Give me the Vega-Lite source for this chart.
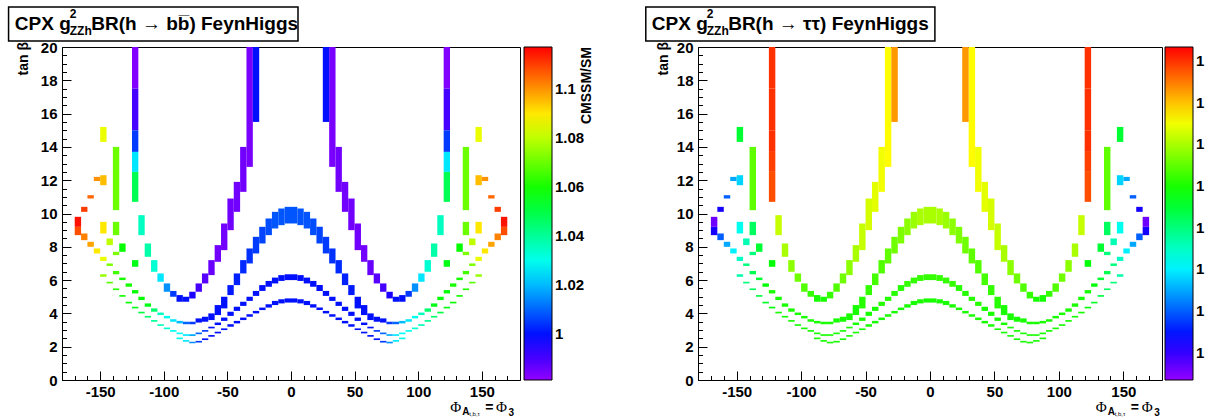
{
  "$schema": "https://vega.github.io/schema/vega-lite/v6.json",
  "background": "white",
  "padding": {"left": 7, "top": 5, "right": 2, "bottom": 0},
  "spacing": 49,
  "resolve": {"scale": {"color": "independent", "x": "independent", "y": "independent"}, "legend": {"color": "independent"}},
  "config": {
    "font": "Liberation Sans",
    "view": {"stroke": "black", "strokeWidth": 1},
    "axis": {"grid": false, "domainColor": "black", "tickColor": "black", "labelColor": "black", "labelFont": "Liberation Sans", "labelFontWeight": "bold", "labelFontSize": 15, "labelOverlap": false, "labelFlush": false, "labelBound": false, "title": null},
    "legend": {"labelFont": "Liberation Sans", "labelFontWeight": "bold", "labelFontSize": 15, "labelColor": "black", "labelOverlap": false}
  },
  "datasets": {
    "cells": [
      {"x":-125,"x2":-120,"y":17.5,"y2":20,"b":0.983,"t":1.08},
      {"x":-125,"x2":-120,"y":15,"y2":17.5,"b":0.99,"t":1.08},
      {"x":-125,"x2":-120,"y":13.7,"y2":15,"b":1.005,"t":1.08},
      {"x":-125,"x2":-120,"y":12.5,"y2":13.7,"b":1.025,"t":1.079},
      {"x":-125,"x2":-120,"y":10.7,"y2":12.5,"b":1.048,"t":1.078},
      {"x":-120,"x2":-115,"y":8.7,"y2":9.9,"b":1.035,"t":1.062},
      {"x":-115,"x2":-110,"y":7.4,"y2":8.2,"b":1.038,"t":1.06},
      {"x":-110,"x2":-105,"y":6.5,"y2":7.2,"b":1.033,"t":1.058},
      {"x":-105,"x2":-100,"y":5.9,"y2":6.4,"b":1.025,"t":1.056},
      {"x":-100,"x2":-95,"y":5.3,"y2":5.8,"b":1.015,"t":1.054},
      {"x":-95,"x2":-90,"y":5.0,"y2":5.35,"b":1.005,"t":1.052},
      {"x":-90,"x2":-85,"y":4.7,"y2":5.1,"b":1.0,"t":1.05},
      {"x":-85,"x2":-80,"y":4.7,"y2":5.0,"b":1.0,"t":1.05},
      {"x":-80,"x2":-75,"y":4.9,"y2":5.3,"b":0.995,"t":1.052},
      {"x":-75,"x2":-70,"y":5.3,"y2":5.8,"b":0.99,"t":1.054},
      {"x":-70,"x2":-65,"y":5.8,"y2":6.4,"b":0.988,"t":1.056},
      {"x":-65,"x2":-60,"y":6.3,"y2":7.2,"b":0.986,"t":1.058},
      {"x":-60,"x2":-55,"y":7.1,"y2":8.1,"b":0.985,"t":1.06},
      {"x":-55,"x2":-50,"y":7.8,"y2":9.4,"b":0.985,"t":1.062},
      {"x":-50,"x2":-45,"y":9.0,"y2":10.9,"b":0.985,"t":1.063},
      {"x":-45,"x2":-40,"y":10.1,"y2":11.9,"b":0.985,"t":1.064},
      {"x":-40,"x2":-35,"y":11.3,"y2":14,"b":0.985,"t":1.065},
      {"x":-35,"x2":-30,"y":12.8,"y2":20,"b":0.984,"t":1.066},
      {"x":-30,"x2":-25,"y":15.5,"y2":20,"b":1.0,"t":1.073},
      {"x":-5,"x2":0,"y":9.4,"y2":10.4,"b":1.008,"t":1.06},
      {"x":-10,"x2":-5,"y":9.3,"y2":10.3,"b":1.008,"t":1.06},
      {"x":-15,"x2":-10,"y":9.1,"y2":10.1,"b":1.008,"t":1.059},
      {"x":-20,"x2":-15,"y":8.7,"y2":9.7,"b":1.007,"t":1.058},
      {"x":-25,"x2":-20,"y":8.2,"y2":9.2,"b":1.006,"t":1.057},
      {"x":-30,"x2":-25,"y":7.6,"y2":8.6,"b":1.005,"t":1.056},
      {"x":-35,"x2":-30,"y":7.0,"y2":7.9,"b":1.004,"t":1.055},
      {"x":-40,"x2":-35,"y":6.4,"y2":7.2,"b":1.003,"t":1.054},
      {"x":-45,"x2":-40,"y":5.7,"y2":6.4,"b":1.002,"t":1.053},
      {"x":-50,"x2":-45,"y":5.1,"y2":5.7,"b":1.001,"t":1.052},
      {"x":-55,"x2":-50,"y":4.3,"y2":5.0,"b":1.0,"t":1.051},
      {"x":-60,"x2":-55,"y":3.9,"y2":4.5,"b":1.0,"t":1.05},
      {"x":-65,"x2":-60,"y":3.6,"y2":4.0,"b":1.0,"t":1.05},
      {"x":-70,"x2":-65,"y":3.5,"y2":3.8,"b":1.0,"t":1.05},
      {"x":-75,"x2":-70,"y":3.45,"y2":3.7,"b":1.0,"t":1.05},
      {"x":-80,"x2":-75,"y":3.35,"y2":3.5,"b":1.005,"t":1.05},
      {"x":-85,"x2":-80,"y":3.35,"y2":3.5,"b":1.01,"t":1.05},
      {"x":-90,"x2":-85,"y":3.4,"y2":3.55,"b":1.02,"t":1.05},
      {"x":-95,"x2":-90,"y":3.5,"y2":3.65,"b":1.025,"t":1.05},
      {"x":-100,"x2":-95,"y":3.7,"y2":3.85,"b":1.03,"t":1.05},
      {"x":-105,"x2":-100,"y":3.9,"y2":4.05,"b":1.035,"t":1.05},
      {"x":-110,"x2":-105,"y":4.1,"y2":4.3,"b":1.045,"t":1.05},
      {"x":-115,"x2":-110,"y":4.4,"y2":4.6,"b":1.055,"t":1.05},
      {"x":-120,"x2":-115,"y":4.8,"y2":5.0,"b":1.058,"t":1.05},
      {"x":-125,"x2":-120,"y":5.2,"y2":5.4,"b":1.058,"t":1.05},
      {"x":-130,"x2":-125,"y":5.6,"y2":5.8,"b":1.06,"t":1.048},
      {"x":-135,"x2":-130,"y":6.0,"y2":6.15,"b":1.06,"t":1.045},
      {"x":-140,"x2":-135,"y":6.35,"y2":6.55,"b":1.065,"t":1.043},
      {"x":-145,"x2":-140,"y":6.85,"y2":7.0,"b":1.072,"t":1.04},
      {"x":-150,"x2":-145,"y":7.15,"y2":7.4,"b":1.085,"t":1.035},
      {"x":-155,"x2":-150,"y":7.6,"y2":7.9,"b":1.09,"t":1.03},
      {"x":-160,"x2":-155,"y":8.0,"y2":8.3,"b":1.098,"t":1.025},
      {"x":-165,"x2":-160,"y":8.4,"y2":8.8,"b":1.102,"t":1.02},
      {"x":-170,"x2":-165,"y":8.7,"y2":9.2,"b":1.108,"t":1.012},
      {"x":-170,"x2":-165,"y":9.2,"y2":9.8,"b":1.115,"t":1.006},
      {"x":-5,"x2":0,"y":6.0,"y2":6.35,"b":1.0,"t":1.052},
      {"x":-10,"x2":-5,"y":5.95,"y2":6.3,"b":1.0,"t":1.052},
      {"x":-15,"x2":-10,"y":5.8,"y2":6.15,"b":1.0,"t":1.052},
      {"x":-20,"x2":-15,"y":5.6,"y2":5.95,"b":1.0,"t":1.052},
      {"x":-25,"x2":-20,"y":5.35,"y2":5.7,"b":1.0,"t":1.051},
      {"x":-30,"x2":-25,"y":5.05,"y2":5.35,"b":1.0,"t":1.051},
      {"x":-35,"x2":-30,"y":4.75,"y2":5.0,"b":1.0,"t":1.051},
      {"x":-40,"x2":-35,"y":4.45,"y2":4.7,"b":1.0,"t":1.051},
      {"x":-45,"x2":-40,"y":4.15,"y2":4.4,"b":1.0,"t":1.05},
      {"x":-50,"x2":-45,"y":3.85,"y2":4.1,"b":1.0,"t":1.05},
      {"x":-55,"x2":-50,"y":3.55,"y2":3.75,"b":1.0,"t":1.05},
      {"x":-60,"x2":-55,"y":3.3,"y2":3.45,"b":1.0,"t":1.05},
      {"x":-65,"x2":-60,"y":3.1,"y2":3.2,"b":1.0,"t":1.05},
      {"x":-70,"x2":-65,"y":2.9,"y2":3.0,"b":1.005,"t":1.05},
      {"x":-75,"x2":-70,"y":2.75,"y2":2.85,"b":1.01,"t":1.05},
      {"x":-80,"x2":-75,"y":2.65,"y2":2.75,"b":1.018,"t":1.05},
      {"x":-85,"x2":-80,"y":2.65,"y2":2.75,"b":1.025,"t":1.05},
      {"x":-90,"x2":-85,"y":2.75,"y2":2.85,"b":1.028,"t":1.05},
      {"x":-95,"x2":-90,"y":2.9,"y2":3.0,"b":1.03,"t":1.05},
      {"x":-100,"x2":-95,"y":3.05,"y2":3.15,"b":1.033,"t":1.05},
      {"x":-105,"x2":-100,"y":3.25,"y2":3.35,"b":1.036,"t":1.05},
      {"x":-110,"x2":-105,"y":3.5,"y2":3.6,"b":1.04,"t":1.05},
      {"x":-115,"x2":-110,"y":3.75,"y2":3.85,"b":1.045,"t":1.05},
      {"x":-120,"x2":-115,"y":4.0,"y2":4.1,"b":1.05,"t":1.05},
      {"x":-125,"x2":-120,"y":4.3,"y2":4.4,"b":1.055,"t":1.048},
      {"x":-130,"x2":-125,"y":4.6,"y2":4.7,"b":1.058,"t":1.046},
      {"x":-135,"x2":-130,"y":5.0,"y2":5.1,"b":1.06,"t":1.044},
      {"x":-140,"x2":-135,"y":5.4,"y2":5.5,"b":1.062,"t":1.042},
      {"x":-145,"x2":-140,"y":5.8,"y2":5.9,"b":1.068,"t":1.04},
      {"x":-150,"x2":-145,"y":6.2,"y2":6.35,"b":1.075,"t":1.037},
      {"x":-5,"x2":0,"y":4.65,"y2":4.9,"b":1.0,"t":1.05},
      {"x":-10,"x2":-5,"y":4.6,"y2":4.85,"b":1.0,"t":1.05},
      {"x":-15,"x2":-10,"y":4.5,"y2":4.75,"b":1.0,"t":1.05},
      {"x":-20,"x2":-15,"y":4.35,"y2":4.55,"b":1.0,"t":1.05},
      {"x":-25,"x2":-20,"y":4.2,"y2":4.35,"b":1.0,"t":1.05},
      {"x":-30,"x2":-25,"y":4.0,"y2":4.15,"b":1.0,"t":1.05},
      {"x":-35,"x2":-30,"y":3.8,"y2":3.95,"b":1.0,"t":1.05},
      {"x":-40,"x2":-35,"y":3.6,"y2":3.75,"b":1.0,"t":1.05},
      {"x":-45,"x2":-40,"y":3.4,"y2":3.55,"b":1.0,"t":1.05},
      {"x":-50,"x2":-45,"y":3.2,"y2":3.35,"b":1.0,"t":1.05},
      {"x":-55,"x2":-50,"y":3.0,"y2":3.1,"b":1.0,"t":1.05},
      {"x":-60,"x2":-55,"y":2.8,"y2":2.9,"b":1.0,"t":1.05},
      {"x":-65,"x2":-60,"y":2.6,"y2":2.7,"b":1.0,"t":1.05},
      {"x":-70,"x2":-65,"y":2.4,"y2":2.5,"b":1.0,"t":1.05},
      {"x":-75,"x2":-70,"y":2.25,"y2":2.35,"b":1.005,"t":1.05},
      {"x":-80,"x2":-75,"y":2.2,"y2":2.3,"b":1.015,"t":1.05},
      {"x":-85,"x2":-80,"y":2.3,"y2":2.4,"b":1.025,"t":1.05},
      {"x":-90,"x2":-85,"y":2.45,"y2":2.55,"b":1.03,"t":1.05},
      {"x":-140,"x2":-135,"y":10.2,"y2":14,"b":1.07,"t":1.055},
      {"x":-150,"x2":-145,"y":14.3,"y2":15.2,"b":1.085,"t":1.045},
      {"x":-165,"x2":-160,"y":10.1,"y2":10.4,"b":1.11,"t":1.012},
      {"x":-160,"x2":-155,"y":10.9,"y2":11.1,"b":1.105,"t":1.02},
      {"x":-155,"x2":-150,"y":11.95,"y2":12.2,"b":1.1,"t":1.025},
      {"x":-150,"x2":-145,"y":11.7,"y2":12.3,"b":1.095,"t":1.028},
      {"x":-150,"x2":-145,"y":8.8,"y2":9.5,"b":1.09,"t":1.032},
      {"x":-145,"x2":-140,"y":8.1,"y2":8.5,"b":1.08,"t":1.036},
      {"x":-140,"x2":-135,"y":8.7,"y2":9.5,"b":1.07,"t":1.042},
      {"x":-140,"x2":-135,"y":7.5,"y2":7.7,"b":1.072,"t":1.04},
      {"x":-135,"x2":-130,"y":7.7,"y2":8.2,"b":1.058,"t":1.045},
      {"x":-125,"x2":-120,"y":6.8,"y2":7.2,"b":1.055,"t":1.048},

      {"x":120,"x2":125,"y":17.5,"y2":20,"b":0.983,"t":1.08},
      {"x":120,"x2":125,"y":15,"y2":17.5,"b":0.99,"t":1.08},
      {"x":120,"x2":125,"y":13.7,"y2":15,"b":1.005,"t":1.08},
      {"x":120,"x2":125,"y":12.5,"y2":13.7,"b":1.025,"t":1.079},
      {"x":120,"x2":125,"y":10.7,"y2":12.5,"b":1.048,"t":1.078},
      {"x":115,"x2":120,"y":8.7,"y2":9.9,"b":1.035,"t":1.062},
      {"x":110,"x2":115,"y":7.4,"y2":8.2,"b":1.038,"t":1.06},
      {"x":105,"x2":110,"y":6.5,"y2":7.2,"b":1.033,"t":1.058},
      {"x":100,"x2":105,"y":5.9,"y2":6.4,"b":1.025,"t":1.056},
      {"x":95,"x2":100,"y":5.3,"y2":5.8,"b":1.015,"t":1.054},
      {"x":90,"x2":95,"y":5.0,"y2":5.35,"b":1.005,"t":1.052},
      {"x":85,"x2":90,"y":4.7,"y2":5.1,"b":1.0,"t":1.05},
      {"x":80,"x2":85,"y":4.7,"y2":5.0,"b":1.0,"t":1.05},
      {"x":75,"x2":80,"y":4.9,"y2":5.3,"b":0.995,"t":1.052},
      {"x":70,"x2":75,"y":5.3,"y2":5.8,"b":0.99,"t":1.054},
      {"x":65,"x2":70,"y":5.8,"y2":6.4,"b":0.988,"t":1.056},
      {"x":60,"x2":65,"y":6.3,"y2":7.2,"b":0.986,"t":1.058},
      {"x":55,"x2":60,"y":7.1,"y2":8.1,"b":0.985,"t":1.06},
      {"x":50,"x2":55,"y":7.8,"y2":9.4,"b":0.985,"t":1.062},
      {"x":45,"x2":50,"y":9.0,"y2":10.9,"b":0.985,"t":1.063},
      {"x":40,"x2":45,"y":10.1,"y2":11.9,"b":0.985,"t":1.064},
      {"x":35,"x2":40,"y":11.3,"y2":14,"b":0.985,"t":1.065},
      {"x":30,"x2":35,"y":12.8,"y2":20,"b":0.984,"t":1.066},
      {"x":25,"x2":30,"y":15.5,"y2":20,"b":1.0,"t":1.073},
      {"x":0,"x2":5,"y":9.4,"y2":10.4,"b":1.008,"t":1.06},
      {"x":5,"x2":10,"y":9.3,"y2":10.3,"b":1.008,"t":1.06},
      {"x":10,"x2":15,"y":9.1,"y2":10.1,"b":1.008,"t":1.059},
      {"x":15,"x2":20,"y":8.7,"y2":9.7,"b":1.007,"t":1.058},
      {"x":20,"x2":25,"y":8.2,"y2":9.2,"b":1.006,"t":1.057},
      {"x":25,"x2":30,"y":7.6,"y2":8.6,"b":1.005,"t":1.056},
      {"x":30,"x2":35,"y":7.0,"y2":7.9,"b":1.004,"t":1.055},
      {"x":35,"x2":40,"y":6.4,"y2":7.2,"b":1.003,"t":1.054},
      {"x":40,"x2":45,"y":5.7,"y2":6.4,"b":1.002,"t":1.053},
      {"x":45,"x2":50,"y":5.1,"y2":5.7,"b":1.001,"t":1.052},
      {"x":50,"x2":55,"y":4.3,"y2":5.0,"b":1.0,"t":1.051},
      {"x":55,"x2":60,"y":3.9,"y2":4.5,"b":1.0,"t":1.05},
      {"x":60,"x2":65,"y":3.6,"y2":4.0,"b":1.0,"t":1.05},
      {"x":65,"x2":70,"y":3.5,"y2":3.8,"b":1.0,"t":1.05},
      {"x":70,"x2":75,"y":3.45,"y2":3.7,"b":1.0,"t":1.05},
      {"x":75,"x2":80,"y":3.35,"y2":3.5,"b":1.005,"t":1.05},
      {"x":80,"x2":85,"y":3.35,"y2":3.5,"b":1.01,"t":1.05},
      {"x":85,"x2":90,"y":3.4,"y2":3.55,"b":1.02,"t":1.05},
      {"x":90,"x2":95,"y":3.5,"y2":3.65,"b":1.025,"t":1.05},
      {"x":95,"x2":100,"y":3.7,"y2":3.85,"b":1.03,"t":1.05},
      {"x":100,"x2":105,"y":3.9,"y2":4.05,"b":1.035,"t":1.05},
      {"x":105,"x2":110,"y":4.1,"y2":4.3,"b":1.045,"t":1.05},
      {"x":110,"x2":115,"y":4.4,"y2":4.6,"b":1.055,"t":1.05},
      {"x":115,"x2":120,"y":4.8,"y2":5.0,"b":1.058,"t":1.05},
      {"x":120,"x2":125,"y":5.2,"y2":5.4,"b":1.058,"t":1.05},
      {"x":125,"x2":130,"y":5.6,"y2":5.8,"b":1.06,"t":1.048},
      {"x":130,"x2":135,"y":6.0,"y2":6.15,"b":1.06,"t":1.045},
      {"x":135,"x2":140,"y":6.35,"y2":6.55,"b":1.065,"t":1.043},
      {"x":140,"x2":145,"y":6.85,"y2":7.0,"b":1.072,"t":1.04},
      {"x":145,"x2":150,"y":7.15,"y2":7.4,"b":1.085,"t":1.035},
      {"x":150,"x2":155,"y":7.6,"y2":7.9,"b":1.09,"t":1.03},
      {"x":155,"x2":160,"y":8.0,"y2":8.3,"b":1.098,"t":1.025},
      {"x":160,"x2":165,"y":8.4,"y2":8.8,"b":1.102,"t":1.02},
      {"x":165,"x2":170,"y":8.7,"y2":9.2,"b":1.108,"t":1.012},
      {"x":165,"x2":170,"y":9.2,"y2":9.8,"b":1.115,"t":1.006},
      {"x":0,"x2":5,"y":6.0,"y2":6.35,"b":1.0,"t":1.052},
      {"x":5,"x2":10,"y":5.95,"y2":6.3,"b":1.0,"t":1.052},
      {"x":10,"x2":15,"y":5.8,"y2":6.15,"b":1.0,"t":1.052},
      {"x":15,"x2":20,"y":5.6,"y2":5.95,"b":1.0,"t":1.052},
      {"x":20,"x2":25,"y":5.35,"y2":5.7,"b":1.0,"t":1.051},
      {"x":25,"x2":30,"y":5.05,"y2":5.35,"b":1.0,"t":1.051},
      {"x":30,"x2":35,"y":4.75,"y2":5.0,"b":1.0,"t":1.051},
      {"x":35,"x2":40,"y":4.45,"y2":4.7,"b":1.0,"t":1.051},
      {"x":40,"x2":45,"y":4.15,"y2":4.4,"b":1.0,"t":1.05},
      {"x":45,"x2":50,"y":3.85,"y2":4.1,"b":1.0,"t":1.05},
      {"x":50,"x2":55,"y":3.55,"y2":3.75,"b":1.0,"t":1.05},
      {"x":55,"x2":60,"y":3.3,"y2":3.45,"b":1.0,"t":1.05},
      {"x":60,"x2":65,"y":3.1,"y2":3.2,"b":1.0,"t":1.05},
      {"x":65,"x2":70,"y":2.9,"y2":3.0,"b":1.005,"t":1.05},
      {"x":70,"x2":75,"y":2.75,"y2":2.85,"b":1.01,"t":1.05},
      {"x":75,"x2":80,"y":2.65,"y2":2.75,"b":1.018,"t":1.05},
      {"x":80,"x2":85,"y":2.65,"y2":2.75,"b":1.025,"t":1.05},
      {"x":85,"x2":90,"y":2.75,"y2":2.85,"b":1.028,"t":1.05},
      {"x":90,"x2":95,"y":2.9,"y2":3.0,"b":1.03,"t":1.05},
      {"x":95,"x2":100,"y":3.05,"y2":3.15,"b":1.033,"t":1.05},
      {"x":100,"x2":105,"y":3.25,"y2":3.35,"b":1.036,"t":1.05},
      {"x":105,"x2":110,"y":3.5,"y2":3.6,"b":1.04,"t":1.05},
      {"x":110,"x2":115,"y":3.75,"y2":3.85,"b":1.045,"t":1.05},
      {"x":115,"x2":120,"y":4.0,"y2":4.1,"b":1.05,"t":1.05},
      {"x":120,"x2":125,"y":4.3,"y2":4.4,"b":1.055,"t":1.048},
      {"x":125,"x2":130,"y":4.6,"y2":4.7,"b":1.058,"t":1.046},
      {"x":130,"x2":135,"y":5.0,"y2":5.1,"b":1.06,"t":1.044},
      {"x":135,"x2":140,"y":5.4,"y2":5.5,"b":1.062,"t":1.042},
      {"x":140,"x2":145,"y":5.8,"y2":5.9,"b":1.068,"t":1.04},
      {"x":145,"x2":150,"y":6.2,"y2":6.35,"b":1.075,"t":1.037},
      {"x":0,"x2":5,"y":4.65,"y2":4.9,"b":1.0,"t":1.05},
      {"x":5,"x2":10,"y":4.6,"y2":4.85,"b":1.0,"t":1.05},
      {"x":10,"x2":15,"y":4.5,"y2":4.75,"b":1.0,"t":1.05},
      {"x":15,"x2":20,"y":4.35,"y2":4.55,"b":1.0,"t":1.05},
      {"x":20,"x2":25,"y":4.2,"y2":4.35,"b":1.0,"t":1.05},
      {"x":25,"x2":30,"y":4.0,"y2":4.15,"b":1.0,"t":1.05},
      {"x":30,"x2":35,"y":3.8,"y2":3.95,"b":1.0,"t":1.05},
      {"x":35,"x2":40,"y":3.6,"y2":3.75,"b":1.0,"t":1.05},
      {"x":40,"x2":45,"y":3.4,"y2":3.55,"b":1.0,"t":1.05},
      {"x":45,"x2":50,"y":3.2,"y2":3.35,"b":1.0,"t":1.05},
      {"x":50,"x2":55,"y":3.0,"y2":3.1,"b":1.0,"t":1.05},
      {"x":55,"x2":60,"y":2.8,"y2":2.9,"b":1.0,"t":1.05},
      {"x":60,"x2":65,"y":2.6,"y2":2.7,"b":1.0,"t":1.05},
      {"x":65,"x2":70,"y":2.4,"y2":2.5,"b":1.0,"t":1.05},
      {"x":70,"x2":75,"y":2.25,"y2":2.35,"b":1.005,"t":1.05},
      {"x":75,"x2":80,"y":2.2,"y2":2.3,"b":1.015,"t":1.05},
      {"x":80,"x2":85,"y":2.3,"y2":2.4,"b":1.025,"t":1.05},
      {"x":85,"x2":90,"y":2.45,"y2":2.55,"b":1.03,"t":1.05},
      {"x":135,"x2":140,"y":10.2,"y2":14,"b":1.07,"t":1.055},
      {"x":145,"x2":150,"y":14.3,"y2":15.2,"b":1.085,"t":1.045},
      {"x":160,"x2":165,"y":10.1,"y2":10.4,"b":1.11,"t":1.012},
      {"x":155,"x2":160,"y":10.9,"y2":11.1,"b":1.105,"t":1.02},
      {"x":150,"x2":155,"y":11.95,"y2":12.2,"b":1.1,"t":1.025},
      {"x":145,"x2":150,"y":11.7,"y2":12.3,"b":1.095,"t":1.028},
      {"x":145,"x2":150,"y":8.8,"y2":9.5,"b":1.09,"t":1.032},
      {"x":140,"x2":145,"y":8.1,"y2":8.5,"b":1.08,"t":1.036},
      {"x":135,"x2":140,"y":8.7,"y2":9.5,"b":1.07,"t":1.042},
      {"x":135,"x2":140,"y":7.5,"y2":7.7,"b":1.072,"t":1.04},
      {"x":130,"x2":135,"y":7.7,"y2":8.2,"b":1.058,"t":1.045},
      {"x":120,"x2":125,"y":6.8,"y2":7.2,"b":1.055,"t":1.048}
    ]
  },
  "hconcat": [
    {
      "width": 458,
      "height": 333,
      "resolve": {"axis": {"x": "independent", "y": "independent"}},
      "layer": [
        {
          "data": {"name": "cells"},
          "mark": {"type": "rect"},
          "encoding": {
            "x": {"field": "x", "type": "quantitative", "scale": {"domain": [-180, 180], "nice": false, "zero": false},
              "axis": {"orient": "bottom", "values": [-150,-100,-50,0,50,100,150], "labelExpr": "'' + datum.value", "tickSize": -9, "labelPadding": 13}},
            "x2": {"field": "x2"},
            "y": {"field": "y", "type": "quantitative", "scale": {"domain": [0, 20], "nice": false, "zero": false},
              "axis": {"orient": "left", "values": [0,2,4,6,8,10,12,14,16,18,20], "labelExpr": "'' + datum.value", "tickSize": -9, "labelPadding": 14}},
            "y2": {"field": "y2"},
            "color": {"field": "b", "type": "quantitative",
              "scale": {"domain": [0.9811, 1.00828, 1.03546, 1.06264, 1.08982, 1.117], "range": ["hsl(274.4,100%,50%)", "hsl(219.5,100%,50%)", "hsl(164.6,100%,50%)", "hsl(109.8,100%,50%)", "hsl(54.9,100%,50%)", "hsl(0,100%,50%)"], "interpolate": "hsl", "clamp": true},
              "legend": {"orient": "right", "offset": 4, "title": null, "gradientLength": 333, "gradientThickness": 28, "values": [1, 1.02, 1.04, 1.06, 1.08, 1.1], "format": ".2~f", "labelOffset": 3, "gradientStrokeColor": "black", "gradientStrokeWidth": 1}}
          }
        },
        {"data": {"values": [{}]}, "mark": {"type": "rect", "fill": "white", "stroke": "black", "strokeWidth": 1.5, "clip": false},
          "encoding": {
            "x": {"datum": -222, "axis": {"orient": "bottom", "values": [-170,-160,-140,-130,-120,-110,-90,-80,-70,-60,-40,-30,-20,-10,10,20,30,40,60,70,80,90,110,120,130,140,160,170], "labels": false, "domain": false, "tickSize": -4.5}},
            "x2": {"datum": 5.5},
            "y": {"datum": 22.4, "axis": {"orient": "left", "values": [0.5,1,1.5,2.5,3,3.5,4.5,5,5.5,6.5,7,7.5,8.5,9,9.5,10.5,11,11.5,12.5,13,13.5,14.5,15,15.5,16.5,17,17.5,18.5,19,19.5], "labels": false, "domain": false, "tickSize": -4.5}},
            "y2": {"datum": 20.36}}},
        {"data": {"values": [{}]}, "mark": {"type": "text", "align": "left", "baseline": "alphabetic", "fontWeight": "bold", "fontSize": 19, "clip": false},
          "encoding": {"x": {"datum": -217.1, "axis": null}, "y": {"datum": 21.02, "axis": null}, "text": {"value": "CPX g"}}},
        {"data": {"values": [{}]}, "mark": {"type": "text", "align": "left", "baseline": "alphabetic", "fontWeight": "bold", "fontSize": 12, "clip": false},
          "encoding": {"x": {"datum": -173.9, "axis": null}, "y": {"datum": 21.77, "axis": null}, "text": {"value": "2"}}},
        {"data": {"values": [{}]}, "mark": {"type": "text", "align": "left", "baseline": "alphabetic", "fontWeight": "bold", "fontSize": 12, "clip": false},
          "encoding": {"x": {"datum": -173.9, "axis": null}, "y": {"datum": 20.72, "axis": null}, "text": {"value": "ZZh"}}},
        {"data": {"values": [{}]}, "mark": {"type": "text", "align": "left", "baseline": "alphabetic", "fontWeight": "bold", "fontSize": 19, "clip": false},
          "encoding": {"x": {"datum": -157.0, "axis": null}, "y": {"datum": 21.02, "axis": null}, "text": {"value": "BR(h → bb̅) FeynHiggs"}}},
        {"data": {"values": [{}]}, "mark": {"type": "text", "align": "right", "baseline": "middle", "angle": 270, "fontWeight": "bold", "fontSize": 14, "clip": false},
          "encoding": {"x": {"datum": -209.5, "axis": null}, "y": {"datum": 20.3, "axis": null}, "text": {"value": "tan β"}}},
        {"data": {"values": [{}]}, "mark": {"type": "text", "align": "right", "baseline": "middle", "angle": 270, "fontWeight": "bold", "fontSize": 14, "clip": false},
          "encoding": {"x": {"datum": 232.6, "axis": null}, "y": {"datum": 20, "axis": null}, "text": {"value": "CMSSM/SM"}}},
        {"data": {"values": [{}]}, "mark": {"type": "text", "align": "left", "baseline": "alphabetic", "fontSize": 15, "font": "Liberation Serif", "clip": false},
          "encoding": {"x": {"datum": 125.2, "axis": null}, "y": {"datum": -1.92, "axis": null}, "text": {"value": "Φ"}}},
        {"data": {"values": [{}]}, "mark": {"type": "text", "align": "left", "baseline": "alphabetic", "fontSize": 10, "fontWeight": "bold", "clip": false},
          "encoding": {"x": {"datum": 134.6, "axis": null}, "y": {"datum": -2.1, "axis": null}, "text": {"value": "A"}}},
        {"data": {"values": [{}]}, "mark": {"type": "text", "align": "left", "baseline": "alphabetic", "fontSize": 6, "clip": false},
          "encoding": {"x": {"datum": 140.1, "axis": null}, "y": {"datum": -2.16, "axis": null}, "text": {"value": "t,b,τ"}}},
        {"data": {"values": [{}]}, "mark": {"type": "text", "align": "left", "baseline": "alphabetic", "fontSize": 14, "fontWeight": "bold", "clip": false},
          "encoding": {"x": {"datum": 152.6, "axis": null}, "y": {"datum": -1.92, "axis": null}, "text": {"value": "="}}},
        {"data": {"values": [{}]}, "mark": {"type": "text", "align": "left", "baseline": "alphabetic", "fontSize": 15, "font": "Liberation Serif", "clip": false},
          "encoding": {"x": {"datum": 161.2, "axis": null}, "y": {"datum": -1.92, "axis": null}, "text": {"value": "Φ"}}},
        {"data": {"values": [{}]}, "mark": {"type": "text", "align": "left", "baseline": "alphabetic", "fontSize": 10, "fontWeight": "bold", "clip": false},
          "encoding": {"x": {"datum": 171.0, "axis": null}, "y": {"datum": -2.16, "axis": null}, "text": {"value": "3"}}}
      ]
    },
    {
      "width": 464,
      "height": 333,
      "resolve": {"axis": {"x": "independent", "y": "independent"}},
      "layer": [
        {
          "data": {"name": "cells"},
          "mark": {"type": "rect"},
          "encoding": {
            "x": {"field": "x", "type": "quantitative", "scale": {"domain": [-180, 180], "nice": false, "zero": false},
              "axis": {"orient": "bottom", "values": [-150,-100,-50,0,50,100,150], "labelExpr": "'' + datum.value", "tickSize": -9, "labelPadding": 13}},
            "x2": {"field": "x2"},
            "y": {"field": "y", "type": "quantitative", "scale": {"domain": [0, 20], "nice": false, "zero": false},
              "axis": {"orient": "left", "values": [0,2,4,6,8,10,12,14,16,18,20], "labelExpr": "'' + datum.value", "tickSize": -9, "labelPadding": 14}},
            "y2": {"field": "y2"},
            "color": {"field": "t", "type": "quantitative",
              "scale": {"domain": [1.00345, 1.01943, 1.03541, 1.0514, 1.06738, 1.08336], "range": ["hsl(274.4,100%,50%)", "hsl(219.5,100%,50%)", "hsl(164.6,100%,50%)", "hsl(109.8,100%,50%)", "hsl(54.9,100%,50%)", "hsl(0,100%,50%)"], "interpolate": "hsl", "clamp": true},
              "legend": {"orient": "right", "offset": 3, "title": null, "gradientLength": 333, "gradientThickness": 28, "values": [1.01, 1.02, 1.03, 1.04, 1.05, 1.06, 1.07, 1.08], "format": ".0f", "labelOffset": 3, "gradientStrokeColor": "black", "gradientStrokeWidth": 1}}
          }
        },
        {"data": {"values": [{}]}, "mark": {"type": "rect", "fill": "white", "stroke": "black", "strokeWidth": 1.5, "clip": false},
          "encoding": {
            "x": {"datum": -220.5, "axis": {"orient": "bottom", "values": [-170,-160,-140,-130,-120,-110,-90,-80,-70,-60,-40,-30,-20,-10,10,20,30,40,60,70,80,90,110,120,130,140,160,170], "labels": false, "domain": false, "tickSize": -4.5}},
            "x2": {"datum": 3.8},
            "y": {"datum": 22.4, "axis": {"orient": "left", "values": [0.5,1,1.5,2.5,3,3.5,4.5,5,5.5,6.5,7,7.5,8.5,9,9.5,10.5,11,11.5,12.5,13,13.5,14.5,15,15.5,16.5,17,17.5,18.5,19,19.5], "labels": false, "domain": false, "tickSize": -4.5}},
            "y2": {"datum": 20.36}}},
        {"data": {"values": [{}]}, "mark": {"type": "text", "align": "left", "baseline": "alphabetic", "fontWeight": "bold", "fontSize": 19, "clip": false},
          "encoding": {"x": {"datum": -215.8, "axis": null}, "y": {"datum": 21.02, "axis": null}, "text": {"value": "CPX g"}}},
        {"data": {"values": [{}]}, "mark": {"type": "text", "align": "left", "baseline": "alphabetic", "fontWeight": "bold", "fontSize": 12, "clip": false},
          "encoding": {"x": {"datum": -173.2, "axis": null}, "y": {"datum": 21.77, "axis": null}, "text": {"value": "2"}}},
        {"data": {"values": [{}]}, "mark": {"type": "text", "align": "left", "baseline": "alphabetic", "fontWeight": "bold", "fontSize": 12, "clip": false},
          "encoding": {"x": {"datum": -173.2, "axis": null}, "y": {"datum": 20.72, "axis": null}, "text": {"value": "ZZh"}}},
        {"data": {"values": [{}]}, "mark": {"type": "text", "align": "left", "baseline": "alphabetic", "fontWeight": "bold", "fontSize": 19, "clip": false},
          "encoding": {"x": {"datum": -156.6, "axis": null}, "y": {"datum": 21.02, "axis": null}, "text": {"value": "BR(h → ττ) FeynHiggs"}}},
        {"data": {"values": [{}]}, "mark": {"type": "text", "align": "right", "baseline": "middle", "angle": 270, "fontWeight": "bold", "fontSize": 14, "clip": false},
          "encoding": {"x": {"datum": -206.4, "axis": null}, "y": {"datum": 20.3, "axis": null}, "text": {"value": "tan β"}}},
        {"data": {"values": [{}]}, "mark": {"type": "text", "align": "left", "baseline": "alphabetic", "fontSize": 15, "font": "Liberation Serif", "clip": false},
          "encoding": {"x": {"datum": 128.6, "axis": null}, "y": {"datum": -1.92, "axis": null}, "text": {"value": "Φ"}}},
        {"data": {"values": [{}]}, "mark": {"type": "text", "align": "left", "baseline": "alphabetic", "fontSize": 10, "fontWeight": "bold", "clip": false},
          "encoding": {"x": {"datum": 137.9, "axis": null}, "y": {"datum": -2.1, "axis": null}, "text": {"value": "A"}}},
        {"data": {"values": [{}]}, "mark": {"type": "text", "align": "left", "baseline": "alphabetic", "fontSize": 6, "clip": false},
          "encoding": {"x": {"datum": 143.3, "axis": null}, "y": {"datum": -2.16, "axis": null}, "text": {"value": "t,b,τ"}}},
        {"data": {"values": [{}]}, "mark": {"type": "text", "align": "left", "baseline": "alphabetic", "fontSize": 14, "fontWeight": "bold", "clip": false},
          "encoding": {"x": {"datum": 155.7, "axis": null}, "y": {"datum": -1.92, "axis": null}, "text": {"value": "="}}},
        {"data": {"values": [{}]}, "mark": {"type": "text", "align": "left", "baseline": "alphabetic", "fontSize": 15, "font": "Liberation Serif", "clip": false},
          "encoding": {"x": {"datum": 164.2, "axis": null}, "y": {"datum": -1.92, "axis": null}, "text": {"value": "Φ"}}},
        {"data": {"values": [{}]}, "mark": {"type": "text", "align": "left", "baseline": "alphabetic", "fontSize": 10, "fontWeight": "bold", "clip": false},
          "encoding": {"x": {"datum": 173.9, "axis": null}, "y": {"datum": -2.16, "axis": null}, "text": {"value": "3"}}}
      ]
    }
  ]
}
